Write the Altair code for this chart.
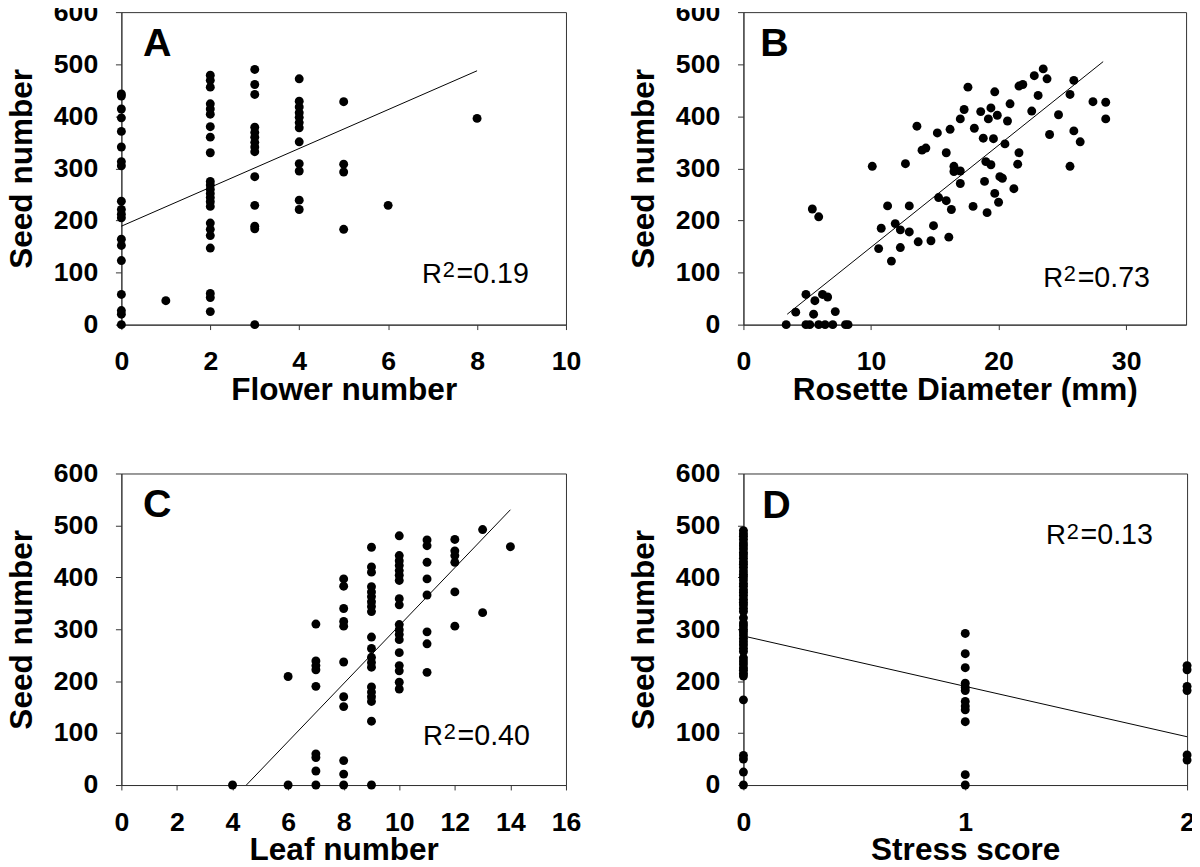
import altair as alt
import pandas as pd

FONT = "Liberation Sans"

# ---------------- data ----------------
# Panel A: seed number vs flower number (columns of points)
a_flower = [0, 1, 2, 3, 4, 5, 6, 8]
a_seeds = [
    [443, 439, 414, 397, 371, 341, 313, 305, 237, 221, 212, 205, 164, 152, 123, 58, 27, 20, 0],
    [46],
    [479, 469, 456, 424, 414, 404, 380, 360, 330, 275, 268, 260, 252, 244, 236, 227, 195, 183, 171, 147, 60, 52, 25],
    [490, 461, 442, 379, 369, 360, 350, 341, 332, 284, 229, 189, 184, 0],
    [472, 429, 418, 407, 398, 388, 378, 351, 309, 295, 239, 221],
    [428, 308, 293, 183],
    [229],
    [396],
]
a_fit = (189, 37.3)          # intercept, slope of drawn line
a_fit_range = [0, 8]

# Panel B: seed number vs rosette diameter (mm)
b_diam = [3.35, 4.1, 4.9, 5.2, 4.9, 5.6, 5.5, 5.9, 6.2, 6.6,
          6.4, 7.0, 7.2, 8.0, 8.2, 5.4, 5.9, 10.1, 10.6, 10.8,
          11.3, 11.6, 11.9, 12.3, 12.3, 12.7, 13.0, 13.0, 13.6, 13.7,
          14.0, 14.3, 14.7, 14.9, 15.2, 15.3, 15.9, 15.9, 16.1, 16.2,
          16.3, 16.5, 16.5, 17.0, 17.0, 17.0, 17.3, 17.6, 18.0, 18.1,
          18.6, 18.8, 18.9, 19.0, 19.1, 19.2, 19.4, 19.4, 19.6, 19.7,
          19.7, 19.9, 20.0, 20.1, 20.3, 20.5, 20.7, 20.9, 21.2, 21.5,
          21.6, 21.6, 21.9, 22.6, 22.8, 23.1, 23.5, 23.8, 24.0, 24.7,
          25.6, 25.6, 25.9, 25.9, 26.4, 27.4, 28.4, 28.4]
b_seed = [0, 24, 0, 0, 58, 46, 20, 0, 58, 53,
          0, 0, 25, 0, 0, 222, 207, 304, 146, 185,
          228, 122, 194, 182, 148, 309, 228, 178, 381, 159,
          335, 339, 161, 190, 368, 244, 330, 238, 168, 375,
          221, 304, 294, 295, 395, 271, 413, 456, 227, 377,
          409, 358, 275, 313, 215, 395, 416, 307, 357, 252,
          447, 402, 235, 284, 281, 347, 391, 424, 261, 308,
          330, 458, 461, 410, 478, 440, 491, 472, 365, 403,
          442, 304, 469, 372, 351, 428, 427, 395]
b_fit = (-47.2, 19.58)
b_fit_range = [3.43, 28.2]

# Panel C: seed number vs leaf number
c_leaf = [4, 6, 7, 8, 9, 10, 11, 12, 13, 14]
c_seeds = [
    [0],
    [209, 0],
    [310, 239, 230, 222, 190, 60, 53, 27, 0],
    [397, 383, 340, 315, 306, 237, 170, 151, 47, 21, 0],
    [458, 420, 410, 382, 372, 363, 353, 344, 334, 285, 263, 246, 236, 227, 189, 179, 170, 161, 123, 0],
    [480, 442, 432, 423, 413, 404, 394, 359, 347, 309, 299, 290, 280, 255, 230, 220, 198, 185],
    [472, 461, 429, 397, 366, 295, 272, 217],
    [473, 451, 442, 429, 372, 306],
    [492, 332],
    [459],
]
c_fit = (-251, 55.8)
c_fit_range = [4.5, 14]

# Panel D: seed number vs stress score
d_stress = [0, 1, 2]
d_seeds = [
    [490, 484, 479, 473, 466, 461, 455, 448, 443, 437, 430, 425, 419, 412, 406, 401, 395,
     388, 383, 376, 371, 365, 358, 352, 347, 340, 334, 322, 312, 307, 300, 295, 289, 282,
     276, 270, 263, 257, 245, 239, 233, 226, 221, 215, 210, 164, 57, 50, 25, 0],
    [292, 253, 226, 196, 188, 182, 161, 152, 145, 122, 20, 0],
    [230, 222, 190, 182, 58, 48],
]
d_fit = (287, -97)
d_fit_range = [0, 2]

seed_ticks = [0, 100, 200, 300, 400, 500, 600]


def columns(xvals, groups):
    xs, ys = [], []
    for xv, g in zip(xvals, groups):
        for yv in g:
            xs.append(xv)
            ys.append(yv)
    return xs, ys


def panel(xs, ys, xdom, xticks, xtitle, w, h, fit, frange,
          letter, lpos, r2, rpos):
    df = pd.DataFrame({"x": xs, "y": ys})
    ldf = pd.DataFrame({"x": frange, "y": [fit[0] + fit[1] * v for v in frange]})
    xaxis = alt.Axis(values=xticks, title=xtitle, titleY=76,
                     labelExpr="'' + datum.value", titleBaseline="alphabetic",
                     labelBaseline="alphabetic", labelPadding=41,
                     tickSize=5, labelFlush=False, labelOverlap=False)
    yaxis = alt.Axis(values=seed_ticks, title="Seed number",
                     labelExpr="'' + datum.value",
                     titleX=-91, titleY=h / 2, titleAngle=270,
                     titleAlign="center", titleBaseline="alphabetic",
                     labelPadding=18, tickSize=6,
                     labelFlush=False, labelOverlap=False)
    xscale = alt.Scale(domain=xdom, nice=False, zero=False)
    yscale = alt.Scale(domain=[0, 600], nice=False)
    pts = alt.Chart(df).mark_circle(size=82, color="black", opacity=1).encode(
        x=alt.X("x:Q", scale=xscale, axis=xaxis),
        y=alt.Y("y:Q", scale=yscale, axis=yaxis))
    line = alt.Chart(ldf).mark_line(color="black", strokeWidth=1).encode(
        x=alt.X("x:Q", scale=xscale, axis=xaxis),
        y=alt.Y("y:Q", scale=yscale, axis=yaxis))
    one = pd.DataFrame({"k": [0]})
    lt = alt.Chart(one).mark_text(text=letter, font=FONT, fontSize=40, fontWeight="bold",
                                  align="left", baseline="alphabetic", color="black").encode(
        x=alt.value(lpos[0] - 2), y=alt.value(lpos[1]))
    r_t = alt.Chart(one).mark_text(text="R", font=FONT, fontSize=28, align="left",
                                   baseline="alphabetic", color="black").encode(
        x=alt.value(rpos[0] - 2), y=alt.value(rpos[1]))
    sup = alt.Chart(one).mark_text(text="2", font=FONT, fontSize=22, align="left",
                                   baseline="alphabetic", color="black").encode(
        x=alt.value(rpos[0] + 19), y=alt.value(rpos[1] - 6))
    val = alt.Chart(one).mark_text(text="=" + r2, font=FONT, fontSize=29, align="left",
                                   baseline="alphabetic", color="black").encode(
        x=alt.value(rpos[0] + 33), y=alt.value(rpos[1]))
    return alt.layer(pts, line, lt, r_t, sup, val).properties(width=w, height=h)


ax, ay = columns(a_flower, a_seeds)
cx, cy = columns(c_leaf, c_seeds)
dx, dy = columns(d_stress, d_seeds)

pA = panel(ax, ay, [0, 10], [0, 2, 4, 6, 8, 10], "Flower number", 451, 317,
           a_fit, a_fit_range, "A", (24, 45), "0.19", (307, 275))
pB = panel(b_diam, b_seed, [0, 34.7], [0, 10, 20, 30], "Rosette Diameter (mm)", 449, 317,
           b_fit, b_fit_range, "B", (19, 45), "0.73", (306, 279))
pC = panel(cx, cy, [0, 16], [0, 2, 4, 6, 8, 10, 12, 14, 16], "Leaf number", 451, 316,
           c_fit, c_fit_range, "C", (24, 44), "0.40", (308, 275))
pD = panel(dx, dy, [0, 2], [0, 1, 2], "Stress score", 450, 316,
           d_fit, d_fit_range, "D", (21, 45), "0.13", (309, 72))

chart = alt.concat(pA, pB, pC, pD, columns=2, spacing={"row": 151, "column": 180},
                   bounds="flush").properties(
    padding={"left": -3, "top": -17, "right": -4, "bottom": -4},
    background="white",
).configure_view(
    stroke="#333", strokeWidth=1
).configure_axis(
    labelFont=FONT, labelFontSize=27, labelFontWeight="bold", labelColor="black",
    titleFont=FONT, titleFontSize=32, titleFontWeight="bold", titleColor="black",
    domainColor="#333", tickColor="#333", grid=False, labelOverlap=False,
)

chart.save("out.html", embed_options={"renderer": "svg", "actions": False})
